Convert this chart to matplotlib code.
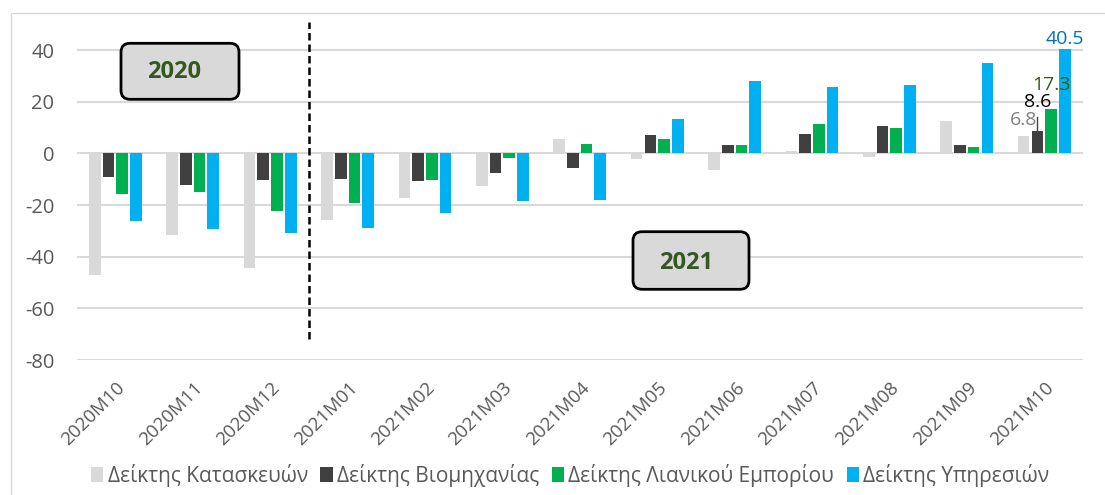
import numpy as np
import matplotlib.pyplot as plt
from matplotlib.patches import FancyBboxPatch, Rectangle
from matplotlib.transforms import ScaledTranslation

plt.rcParams['font.family'] = ['Open Sans', 'DejaVu Sans']
plt.rcParams['axes.unicode_minus'] = False

months = ["2020M10", "2020M11", "2020M12", "2021M01", "2021M02", "2021M03", "2021M04",
          "2021M05", "2021M06", "2021M07", "2021M08", "2021M09", "2021M10"]
series_names = ["Δείκτης Κατασκευών", "Δείκτης Βιομηχανίας",
                "Δείκτης Λιανικού Εμπορίου", "Δείκτης Υπηρεσιών"]
construction = [-47.0, -31.5, -44.4, -25.9, -17.2, -12.6, 5.4, -2.3, -6.6, 0.8, -1.6, 12.6, 6.8]
industry = [-9.0, -12.4, -10.2, -10.1, -10.7, -7.5, -5.8, 7.1, 3.1, 7.3, 10.5, 3.2, 8.6]
retail = [-15.6, -14.8, -22.5, -19.3, -10.5, -1.7, 3.5, 5.4, 3.1, 11.3, 9.7, 2.4, 17.3]
services = [-26.0, -29.3, -30.8, -28.9, -23.0, -18.6, -17.9, 13.4, 27.9, 25.7, 26.4, 34.9, 40.5]

colors = ["#D9D9D9", "#404040", "#00B050", "#00B0F0"]
label_colors = ["#7F7F7F", "#000000", "#375623", "#0070C0"]
label_lift = [6.1, 11.4, 9.2, 3.9]  # how far the last labels sit above their bars

fig = plt.figure(figsize=(11.05, 4.95), dpi=100)
ax = fig.add_axes([0.0694, 0.2727, 0.9106, 0.6315])

x = np.arange(len(months))
pitch = 0.177
width = 0.151
all_series = [construction, industry, retail, services]
for i, (vals, c) in enumerate(zip(all_series, colors)):
    ax.bar(x + (i - 1.5) * pitch, vals, width, color=c, label=series_names[i], zorder=3)

# value labels on the last month
last = len(months) - 1
for i, vals in enumerate(all_series):
    xp = last + (i - 1.5) * pitch
    ax.text(xp, vals[last] + label_lift[i], f"{vals[last]:.1f}", ha="center", va="center",
            color=label_colors[i], fontsize=14, clip_on=False, zorder=5)
# leader line for the industry label
xi = last - 0.5 * pitch
ax.plot([xi, xi], [industry[last], industry[last] + 5.6], color="#404040", lw=1, zorder=4)

ax.set_xlim(-0.5, len(months) - 0.5)
ax.set_ylim(-80, 41)
ax.set_yticks(np.arange(-80, 41, 20))
ax.yaxis.grid(True, color="#D9D9D9", lw=1.5, zorder=0)
ax.set_axisbelow(True)
for s in ax.spines.values():
    s.set_visible(False)
ax.tick_params(axis="both", length=0, labelsize=14.5, labelcolor="#595959")
ax.tick_params(axis="y", pad=16)
ax.set_xticks(x)
ax.set_xticklabels(months, rotation=45, ha="right", va="center", rotation_mode="anchor",
                   fontsize=13.5)
ax.tick_params(axis="x", pad=18)
for lab in ax.get_xticklabels():
    lab.set_transform(lab.get_transform() + ScaledTranslation(0.07, 0, fig.dpi_scale_trans))

# dashed separator between 2020 and 2021
ax.plot([2.5, 2.5], [-72, 51], color="black", lw=1.8, ls=(0, (3, 1.6)), clip_on=False, zorder=4)

# year boxes
for (x0, y0, w, h), (tx, ty), year in [((1.21, 3.957, 1.18, 0.56), (1.737, 4.23), "2020"),
                                        ((6.33, 2.057, 1.16, 0.576), (6.857, 2.317), "2021")]:
    box = FancyBboxPatch((x0, y0), w, h, boxstyle="round,pad=0,rounding_size=0.09",
                         transform=fig.dpi_scale_trans, facecolor="#D9D9D9",
                         edgecolor="black", lw=2, zorder=6)
    fig.patches.append(box)
    fig.text(tx, ty, year, transform=fig.dpi_scale_trans, ha="center", va="center",
             fontsize=17, fontweight="bold", color="#375623", zorder=7)

# chart frame
fig.patches.append(Rectangle((0.105, -0.1), 11.5, 4.918, transform=fig.dpi_scale_trans,
                             fill=False, edgecolor="#D9D9D9", lw=1))

fig.legend(loc="center", bbox_to_anchor=(0.516, 0.04), ncol=4, frameon=False,
           fontsize=15, labelcolor="#595959", handlelength=0.6, handleheight=0.75,
           handletextpad=0.2, columnspacing=0.6)

plt.savefig("out.png", dpi=100)
